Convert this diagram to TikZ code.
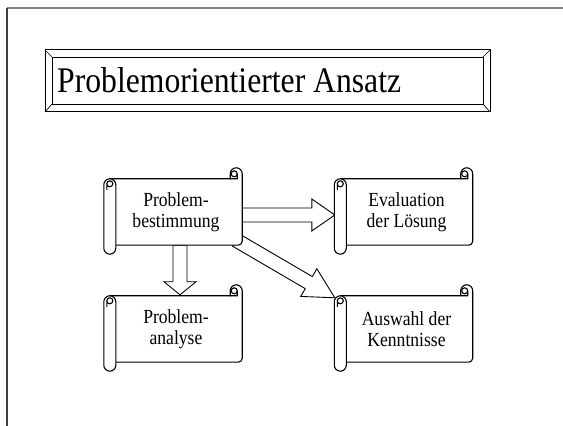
\documentclass[tikz,border=0pt]{standalone}
\usepackage{fontspec}
\setmainfont{Liberation Serif}[FakeStretch=0.88]
\usetikzlibrary{calc}
\pgfdeclarelayer{bg}
\pgfsetlayers{bg,main}

\begin{document}
\begin{tikzpicture}[
  x=1pt, y=1pt,
  scrollline/.style={line width=1.1pt},
  scrollbox/.style={minimum width=132pt, minimum height=66pt, inner sep=0pt,
    align=center, font=\fontsize{20}{21}\selectfont},
  blockarrow/.style={draw, fill=white, line width=0.9pt, to path={
    let \p1=(\tikztostart), \p2=(\tikztotarget),
        \n1={atan2(\y2-\y1,\x2-\x1)},
        \n2={veclen(\x2-\x1,\y2-\y1)-#1} in
    ($(\p1)+(\n1+90:7)$) -- ($(\p1)+(\n1:\n2)+(\n1+90:7)$)
    -- ($(\p1)+(\n1:\n2)+(\n1+90:16)$) -- (\p2)
    -- ($(\p1)+(\n1:\n2)+(\n1-90:16)$) -- ($(\p1)+(\n1:\n2)+(\n1-90:7)$)
    -- ($(\p1)+(\n1-90:7)$) -- cycle}}
  ]
\useasboundingbox (0,0) rectangle (563,426);
\draw [black!50, line width=1.8pt] (7,418) -- (563,418);
\draw [black!75, line width=1.8pt] (7,418) -- (7,0);

% title frame
\draw [line width=1pt] (45,314) rectangle (490,376);
\draw [line width=0.9pt] (52,322) rectangle (483,369);
\draw [line width=0.7pt] (45,314) -- (52,322) (490,314) -- (483,322)
  (45,376) -- (52,369) (490,376) -- (483,369);
\node [anchor=base west, inner sep=0pt, font=\fontsize{36}{40}\selectfont]
  (title) at (57,333) {Problemorientierter Ansatz};

\node [scrollbox] (pb) at (176,214) {Problem-\\bestimmung};
\node [scrollbox] (pa) at (176,97) {Problem-\\analyse};
\node [scrollbox] (ev) at (406.5,214) {Evaluation\\der Lösung};
\node [scrollbox] (au) at (406.5,97) {Auswahl der\\Kenntnisse};

\begin{pgfonlayer}{bg}
\draw [blockarrow=23] ([yshift=-3pt]pb.east) to ([xshift=-5.5pt,yshift=-3pt]ev.west);
\draw [blockarrow=13] ([xshift=4pt]pb.south) to ([xshift=4pt,yshift=1pt]pa.north);
\draw [blockarrow=30] ([xshift=-6pt,yshift=5pt]pb.south east) to ([xshift=-5.5pt,yshift=-2pt]au.north west);

\foreach \s in {pb,pa,ev,au} {
  \draw [scrollline, fill=white] (\s.north west) -- ([xshift=-12pt]\s.north east)
    -- ([xshift=-12pt,yshift=5pt]\s.north east) arc [start angle=180, end angle=0, radius=6pt]
    -- ([yshift=4pt]\s.south east) arc [start angle=0, end angle=-90, radius=4pt]
    -- (\s.south west) -- cycle;
  \draw [scrollline] ([xshift=-8pt,yshift=5pt]\s.north east) circle [radius=3pt]
    ([xshift=-5pt,yshift=5pt]\s.north east) -- ([xshift=-5pt]\s.north east)
    -- ([xshift=-12pt]\s.north east);
  \draw [scrollline, fill=white] ([xshift=6pt,yshift=-6pt]\s.north west)
    -- ([xshift=6pt,yshift=-3pt]\s.south west) arc [start angle=0, end angle=-180, radius=6pt]
    -- ([xshift=-6pt,yshift=-6pt]\s.north west) arc [start angle=180, end angle=0, radius=6pt]
    -- cycle;
  \draw [scrollline] ([yshift=-5pt]\s.north west) circle [radius=3pt]
    ([xshift=-3pt,yshift=-5pt]\s.north west) -- ([xshift=-3pt,yshift=-11pt]\s.north west);
}
\end{pgfonlayer}
\end{tikzpicture}
\end{document}
